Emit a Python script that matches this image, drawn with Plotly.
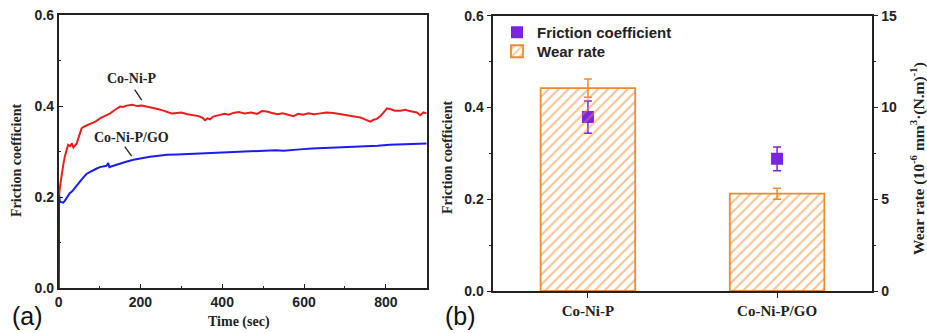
import plotly.graph_objects as go

# ---- Panel (a): friction coefficient vs time ----
t_cnip = [0, 1, 4, 7, 11, 15, 19, 23, 28, 32, 36, 40, 44, 48, 52, 56, 60, 64, 72, 80, 90, 101, 113, 126, 138, 150, 158, 166,
          180, 192, 203, 215, 231, 245, 256, 264, 276, 289, 300, 315, 330, 342, 352, 358, 364, 370, 378, 392, 405, 416, 427,
          440, 455, 470, 485, 497, 509, 522, 535, 548, 562, 574, 586, 598, 610, 625, 640, 655, 672, 686, 700, 713, 726, 738,
          746, 754, 762, 770, 778, 787, 795, 803, 812, 822, 836, 848, 858, 868, 876, 884, 892, 900]
f_cnip = [0.0, 0.205, 0.228, 0.252, 0.270, 0.289, 0.300, 0.315, 0.312, 0.318, 0.309, 0.315, 0.318, 0.329, 0.340, 0.351, 0.354,
          0.356, 0.359, 0.362, 0.366, 0.373, 0.378, 0.384, 0.392, 0.399, 0.398, 0.401, 0.403, 0.400, 0.401, 0.399, 0.397,
          0.393, 0.390, 0.388, 0.384, 0.385, 0.386, 0.382, 0.380, 0.378, 0.374, 0.369, 0.373, 0.371, 0.377, 0.380, 0.383,
          0.381, 0.385, 0.387, 0.384, 0.386, 0.383, 0.389, 0.388, 0.385, 0.382, 0.384, 0.381, 0.378, 0.383, 0.381, 0.384,
          0.382, 0.384, 0.386, 0.385, 0.383, 0.382, 0.380, 0.378, 0.375, 0.372, 0.369, 0.366, 0.370, 0.372, 0.378, 0.386,
          0.395, 0.393, 0.390, 0.390, 0.392, 0.389, 0.388, 0.386, 0.380, 0.386, 0.384]

t_go = [0, 1, 3, 7, 11, 15, 19, 23, 27, 33, 40, 46, 52, 60, 68, 76, 85, 93, 101, 110, 117, 121, 124, 130, 140, 150, 165, 183,
        200, 223, 245, 264, 290, 320, 346, 375, 400, 427, 460, 490, 509, 530, 550, 570, 590, 620, 650, 672, 700, 730, 754,
        780, 810, 836, 860, 880, 900]
f_go = [0.0, 0.205, 0.190, 0.189, 0.188, 0.192, 0.198, 0.203, 0.209, 0.213, 0.220, 0.227, 0.234, 0.243, 0.251, 0.255, 0.260,
        0.263, 0.266, 0.267, 0.269, 0.275, 0.266, 0.268, 0.271, 0.274, 0.278, 0.282, 0.285, 0.289, 0.291, 0.293, 0.294,
        0.295, 0.296, 0.297, 0.297, 0.298, 0.300, 0.301, 0.302, 0.303, 0.302, 0.304, 0.305, 0.307, 0.308, 0.310, 0.310,
        0.311, 0.312, 0.313, 0.315, 0.316, 0.317, 0.317, 0.318]

# ---- Panel (b): bars (wear rate) and markers (friction coefficient) ----
samples = ["Co-Ni-P", "Co-Ni-P/GO"]
wear_rate = [11.05, 5.30]
wear_err = [0.50, 0.30]
friction = [0.379, 0.288]
friction_err = [0.035, 0.026]

RED = "#ee1d1d"
BLUE = "#1b1bf5"
ORANGE = "#ef8a2e"
PURPLE = "#7a22e6"
AXC = "#222222"
SANS = "Arial, Liberation Sans, sans-serif"
SERIF = "Times New Roman, Liberation Serif, serif"

fig = go.Figure()

fig.add_trace(go.Scatter(x=t_cnip, y=f_cnip, mode="lines", line=dict(color=RED, width=2),
                         xaxis="x", yaxis="y", showlegend=False, name="Co-Ni-P"))
fig.add_trace(go.Scatter(x=t_go, y=f_go, mode="lines", line=dict(color=BLUE, width=2),
                         xaxis="x", yaxis="y", showlegend=False, name="Co-Ni-P/GO"))

xb = list(range(len(samples)))
fig.add_trace(go.Scatter(x=xb, y=friction, mode="markers", name="Friction coefficient",
                         marker=dict(symbol="square", size=12, color=PURPLE),
                         error_y=dict(type="data", array=friction_err, color=PURPLE, thickness=1.5, width=4),
                         xaxis="x2", yaxis="y2", legend="legend"))
fig.add_trace(go.Bar(x=xb, y=wear_rate, width=0.5, name="Wear rate",
                     marker=dict(color="rgba(0,0,0,0)", line=dict(color=ORANGE, width=1.8),
                                 pattern=dict(shape="/", fgcolor=ORANGE, bgcolor="rgba(0,0,0,0)",
                                              size=7, solidity=0.32, fillmode="overlay")),
                     error_y=dict(type="data", array=wear_err, color=ORANGE, thickness=1.5, width=4),
                     xaxis="x2", yaxis="y3", legend="legend2"))

tickfont = dict(family=SANS, size=14, color=AXC, weight="bold")
legfont = dict(family=SANS, size=15, color=AXC, weight="bold")

fig.update_layout(
    width=927, height=333,
    margin=dict(l=0, r=0, t=0, b=0, autoexpand=False),
    paper_bgcolor="white", plot_bgcolor="white",
    xaxis=dict(domain=[0.0633, 0.4603], range=[0, 900], dtick=200, tick0=0, automargin=False,
               ticks="inside", ticklen=5, tickwidth=1.3, tickcolor=AXC,
               minor=dict(dtick=100, ticks="inside", ticklen=3, tickwidth=1.3, tickcolor=AXC),
               showline=True, linecolor=AXC, linewidth=1.6, mirror=True,
               showgrid=False, zeroline=False, tickfont=tickfont, anchor="y"),
    yaxis=dict(domain=[0.1342, 0.955], range=[0, 0.6], dtick=0.2, tick0=0, tickformat=".1f", automargin=False,
               ticks="inside", ticklen=5, tickwidth=1.3, tickcolor=AXC,
               minor=dict(dtick=0.1, ticks="inside", ticklen=3, tickwidth=1.3, tickcolor=AXC),
               showline=True, linecolor=AXC, linewidth=1.6, mirror=True,
               showgrid=False, zeroline=False, tickfont=tickfont, anchor="x"),
    xaxis2=dict(domain=[0.5322, 0.9403], range=[-0.5, 1.5], tickvals=xb, ticktext=samples, automargin=False,
                ticks="outside", ticklen=5, tickwidth=1.3, tickcolor=AXC,
                showline=True, linecolor=AXC, linewidth=1.6, mirror=True,
                showgrid=False, zeroline=False,
                tickfont=dict(family=SERIF, size=15, color=AXC, weight="bold"), anchor="y2"),
    yaxis2=dict(domain=[0.1261, 0.9529], range=[0, 0.6], dtick=0.2, tick0=0, tickformat=".1f", automargin=False,
                ticks="outside", ticklen=5, tickwidth=1.3, tickcolor=AXC,
                minor=dict(dtick=0.1, ticks="outside", ticklen=3, tickwidth=1.3, tickcolor=AXC),
                showline=True, linecolor=AXC, linewidth=1.6,
                showgrid=False, zeroline=False, tickfont=tickfont, anchor="x2"),
    yaxis3=dict(range=[0, 15], dtick=5, tick0=0, overlaying="y2", side="right", anchor="x2", automargin=False,
                ticks="outside", ticklen=5, tickwidth=1.3, tickcolor=AXC,
                minor=dict(dtick=2.5, ticks="outside", ticklen=3, tickwidth=1.3, tickcolor=AXC),
                showline=True, linecolor=AXC, linewidth=1.6,
                showgrid=False, zeroline=False, tickfont=tickfont),
    legend=dict(x=497 / 927, y=1 - 16 / 333, xanchor="left", yanchor="top", bgcolor="rgba(0,0,0,0)",
                font=legfont, itemwidth=30),
    legend2=dict(x=497 / 927, y=1 - 35 / 333, xanchor="left", yanchor="top", bgcolor="rgba(0,0,0,0)",
                 font=legfont, itemwidth=30),
    showlegend=True,
)

title_font = dict(family=SERIF, size=14, color=AXC, weight="bold")
C = dict(xanchor="center", yanchor="middle", showarrow=False)
ann = [
    dict(text="Friction coefficient", x=16 / 927, y=1 - 161 / 333, xref="paper", yref="paper",
         textangle=-90, font=title_font, **C),
    dict(text="Time (sec)", x=239 / 927, y=1 - 322 / 333, xref="paper", yref="paper",
         font=title_font, **C),
    dict(text="Friction coefficient", x=447 / 927, y=1 - 158 / 333, xref="paper", yref="paper",
         textangle=-90, font=title_font, **C),
    dict(text="Wear rate (10<sup>-6</sup> mm<sup>3</sup>·(N.m)<sup>-1</sup>)", x=917 / 927, y=1 - 159 / 333,
         xref="paper", yref="paper", textangle=-90,
         font=dict(family=SERIF, size=15.5, color=AXC, weight="bold"), **C),
    dict(text="(a)", x=27 / 927, y=1 - 316 / 333, xref="paper", yref="paper",
         font=dict(family=SANS, size=25, color="#111111"), **C),
    dict(text="(b)", x=460 / 927, y=1 - 316 / 333, xref="paper", yref="paper",
         font=dict(family=SANS, size=25, color="#111111"), **C),
    # curve labels in panel (a)
    dict(text="Co-Ni-P", x=178.5, y=0.4595, xref="x", yref="y",
         font=dict(family=SERIF, size=14, color=AXC, weight="bold"), **C),
    dict(text="", x=203, y=0.413, xref="x", yref="y", ax=-8, ay=-12, showarrow=True,
         arrowhead=0, arrowwidth=1.3, arrowcolor=AXC),
    dict(text="Co-Ni-P/GO", x=179, y=0.332, xref="x", yref="y",
         font=dict(family=SERIF, size=14, color=AXC, weight="bold"), **C),
    dict(text="", x=178.5, y=0.290, xref="x", yref="y", ax=-8, ay=-11, showarrow=True,
         arrowhead=0, arrowwidth=1.3, arrowcolor=AXC),
]
fig.update_layout(annotations=ann)

fig.write_html("out.html", config={"displayModeBar": False},
               post_script="document.body.style.margin='0px';document.body.style.overflow='hidden';")
